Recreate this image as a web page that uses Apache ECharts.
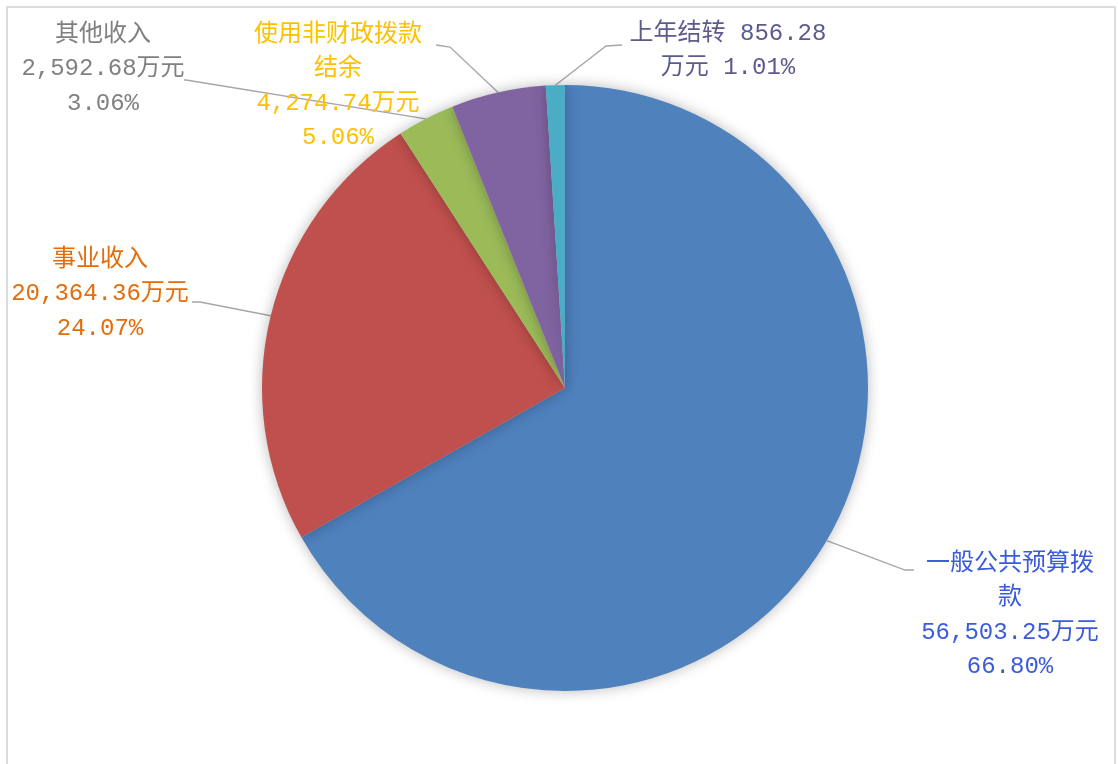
<!DOCTYPE html>
<html>
<head>
<meta charset="utf-8">
<script src="https://cdn.jsdelivr.net/npm/echarts@6/dist/echarts.min.js"></script>
<style>
html,body{margin:0;padding:0;background:#fff;}
#chart{width:1118px;height:764px;}
</style>
</head>
<body>
<div id="chart"></div>
<script>
// ---- data ----
var categories = ['一般公共预算拨款', '事业收入', '其他收入', '使用非财政拨款结余', '上年结转'];
var values = [56503.25, 20364.36, 2592.68, 4274.74, 856.28];
var percents = ['66.80%', '24.07%', '3.06%', '5.06%', '1.01%'];
var labelTexts = [
  '一般公共预算拨\n款\n56,503.25万元\n66.80%',
  '事业收入\n20,364.36万元\n24.07%',
  '其他收入\n2,592.68万元\n3.06%',
  '使用非财政拨款\n结余\n4,274.74万元\n5.06%',
  '上年结转 856.28\n万元 1.01%'
];

// ---- styles ----
var sliceColors = ['#4F81BD', '#C0504D', '#9BBB59', '#8064A2', '#4BACC6'];
var labelColors = ['#3A5BDB', '#E46C0A', '#808080', '#FFC000', '#5B5B8E'];
// label block: center x, top y, line end [x,y], elbow [x,y]
var labelPos = [
  {x: 1010, y: 546, end: [914, 570], elbow: [905, 570]},
  {x: 100, y: 242, end: [192, 302], elbow: [200, 302]},
  {x: 103, y: 17, end: [184, 80], elbow: [186, 80]},
  {x: 338, y: 17, end: [436, 45], elbow: [450, 47]},
  {x: 728, y: 16, end: [622, 45], elbow: [606, 46]}
];

var cx = 565, cy = 388, R = 303;

var data = categories.map(function (c, i) {
  return {
    name: c,
    value: values[i],
    itemStyle: {color: sliceColors[i]},
    label: {color: labelColors[i]}
  };
});

var chart = echarts.init(document.getElementById('chart'), null, {renderer: 'canvas'});
chart.setOption({
  backgroundColor: '#ffffff',
  animation: false,
  graphic: [{
    type: 'rect',
    shape: {x: 7, y: 7, width: 1108, height: 820},
    style: {fill: 'none', stroke: '#DCDCDC', lineWidth: 2},
    silent: true,
    z: -10
  }],
  series: [{
    type: 'pie',
    center: [cx, cy],
    radius: [0, R],
    startAngle: 90,
    clockwise: true,
    avoidLabelOverlap: false,
    data: data,
    itemStyle: {
      borderWidth: 0,
      shadowBlur: 14,
      shadowColor: 'rgba(0,0,0,0.28)'
    },
    label: {
      show: true,
      position: 'outside',
      formatter: function (p) { return labelTexts[p.dataIndex]; },
      fontFamily: "'Liberation Mono', 'Noto Sans CJK SC', monospace",
      fontSize: 24,
      lineHeight: 34.5,
      align: 'center'
    },
    labelLine: {
      show: true,
      length: 20,
      length2: 10,
      smooth: false,
      lineStyle: {color: '#A6A6A6', width: 1.3}
    },
    labelLayout: function (params) {
      var i = params.dataIndex;
      var lp = labelPos[i];
      var start;
      if (params.labelLinePoints && params.labelLinePoints[0]) {
        start = params.labelLinePoints[0];
      } else {
        start = [cx, cy];
      }
      return {
        x: lp.x,
        y: lp.y,
        align: 'center',
        verticalAlign: 'top',
        labelLinePoints: [start, lp.elbow, lp.end]
      };
    }
  }]
});
</script>
</body>
</html>
